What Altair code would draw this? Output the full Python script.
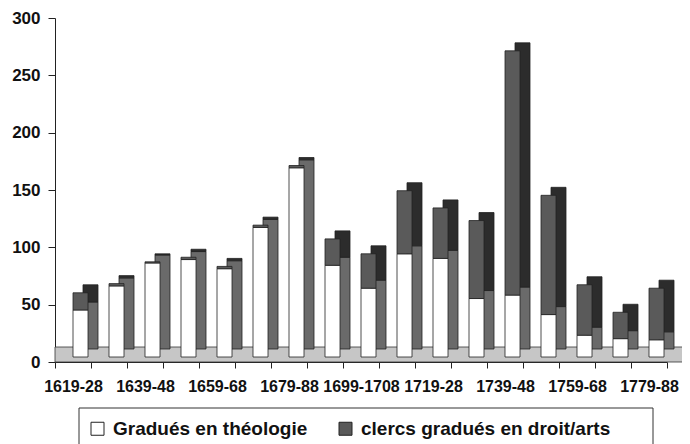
import altair as alt
import pandas as pd

# ---- data ----
periods = ["1619-28", "1629-38", "1639-48", "1649-58", "1659-68", "1669-78",
           "1679-88", "1689-98", "1699-1708", "1709-18", "1719-28", "1729-38",
           "1739-48", "1749-58", "1759-68", "1769-78", "1779-88"]
theologie = [41, 62, 82, 85, 77, 113, 165, 80, 60, 90, 86, 51, 54, 37, 19, 16, 15]
clercs = [15, 2, 1, 2, 2, 2, 2, 23, 30, 55, 44, 68, 213, 104, 44, 23, 45]
series = ["Gradués en théologie", "clercs gradués en droit/arts"]
shown_labels = ["1619-28", "1639-48", "1659-68", "1679-88", "1699-1708",
                "1719-28", "1739-48", "1759-68", "1779-88"]
y_ticks = [0, 50, 100, 150, 200, 250, 300]

rows = []
for p, t, c in zip(periods, theologie, clercs):
    rows.append({"period": p, "serie": series[0], "value": t, "ord": 0})
    rows.append({"period": p, "serie": series[1], "value": c, "ord": 1})
df = pd.DataFrame(rows)

W, H = 612, 344
FONT = "Liberation Sans, Arial, sans-serif"

label_list = "[" + ",".join("'" + s + "'" for s in shown_labels) + "]"
x_axis = alt.Axis(
    title=None, labelAngle=0, labelFont=FONT, labelFontSize=16, labelFontWeight="bold",
    labelColor="#111", labelPadding=10, tickBand="extent", tickSize=6,
    tickColor="#222", domainColor="#222", labelOverlap=False,
    labelExpr="indexof(" + label_list + ", datum.value) >= 0 ? datum.value : ''",
)
y_axis = alt.Axis(
    title=None, values=y_ticks, grid=False, labelFont=FONT, labelFontSize=17,
    labelFontWeight="bold", labelColor="#111", labelPadding=8, tickSize=7,
    tickColor="#222", domainColor="#222",
)

x_enc = alt.X("period:N", sort=periods,
              scale=alt.Scale(paddingInner=0, paddingOuter=0), axis=x_axis)
y_enc = alt.Y("value:Q", stack="zero",
              scale=alt.Scale(domain=[0, 300], nice=False), axis=y_axis)

one = pd.DataFrame({"k": [0]})

floor = alt.Chart(one).mark_rect(fill="#c6c6c6", stroke="#333", strokeWidth=0.8).encode(
    x=alt.value(0), x2=alt.value(W + 18), y=alt.value(H - 15), y2=alt.value(H)
)

# depth faces (side / top) drawn behind the front faces
back = alt.Chart(df).transform_calculate(
    face="datum.ord == 0 ? '#6a6a6a' : '#2c2c2c'"
).mark_bar(size=15, xOffset=17.5, yOffset=-13, stroke="#222", strokeWidth=0.8).encode(
    x=x_enc, y=y_enc,
    fill=alt.Fill("face:N", scale=None),
    order=alt.Order("ord:Q"),
)

front = alt.Chart(df).mark_bar(size=15, xOffset=7.5, yOffset=-5, stroke="#222",
                               strokeWidth=0.8).encode(
    x=x_enc, y=y_enc,
    color=alt.Color(
        "serie:N", sort=series,
        scale=alt.Scale(domain=series, range=["#ffffff", "#5a5a5a"]),
        legend=alt.Legend(
            title=None, orient="none", legendX=33, legendY=401, direction="horizontal",
            symbolType="square", symbolSize=169, symbolStrokeColor="#222",
            symbolStrokeWidth=1, labelFont=FONT, labelFontSize=19,
            labelFontWeight="bold", labelColor="#111", labelOffset=6,
            columnPadding=28, padding=0, labelLimit=400,
        ),
    ),
    order=alt.Order("ord:Q"),
)

legend_box = alt.Chart(one).mark_rect(fill="transparent", stroke="#333", strokeWidth=1).encode(
    x=alt.value(24), x2=alt.value(598), y=alt.value(390), y2=alt.value(445)
)

chart = alt.layer(floor, back, front, legend_box).properties(
    width=W, height=H,
    autosize=alt.AutoSizeParams(type="none"),
    padding={"left": 47, "top": 10, "right": 15, "bottom": 92},
).configure_view(stroke=None)

chart.save("out.html", embed_options={"renderer": "svg", "actions": False})
